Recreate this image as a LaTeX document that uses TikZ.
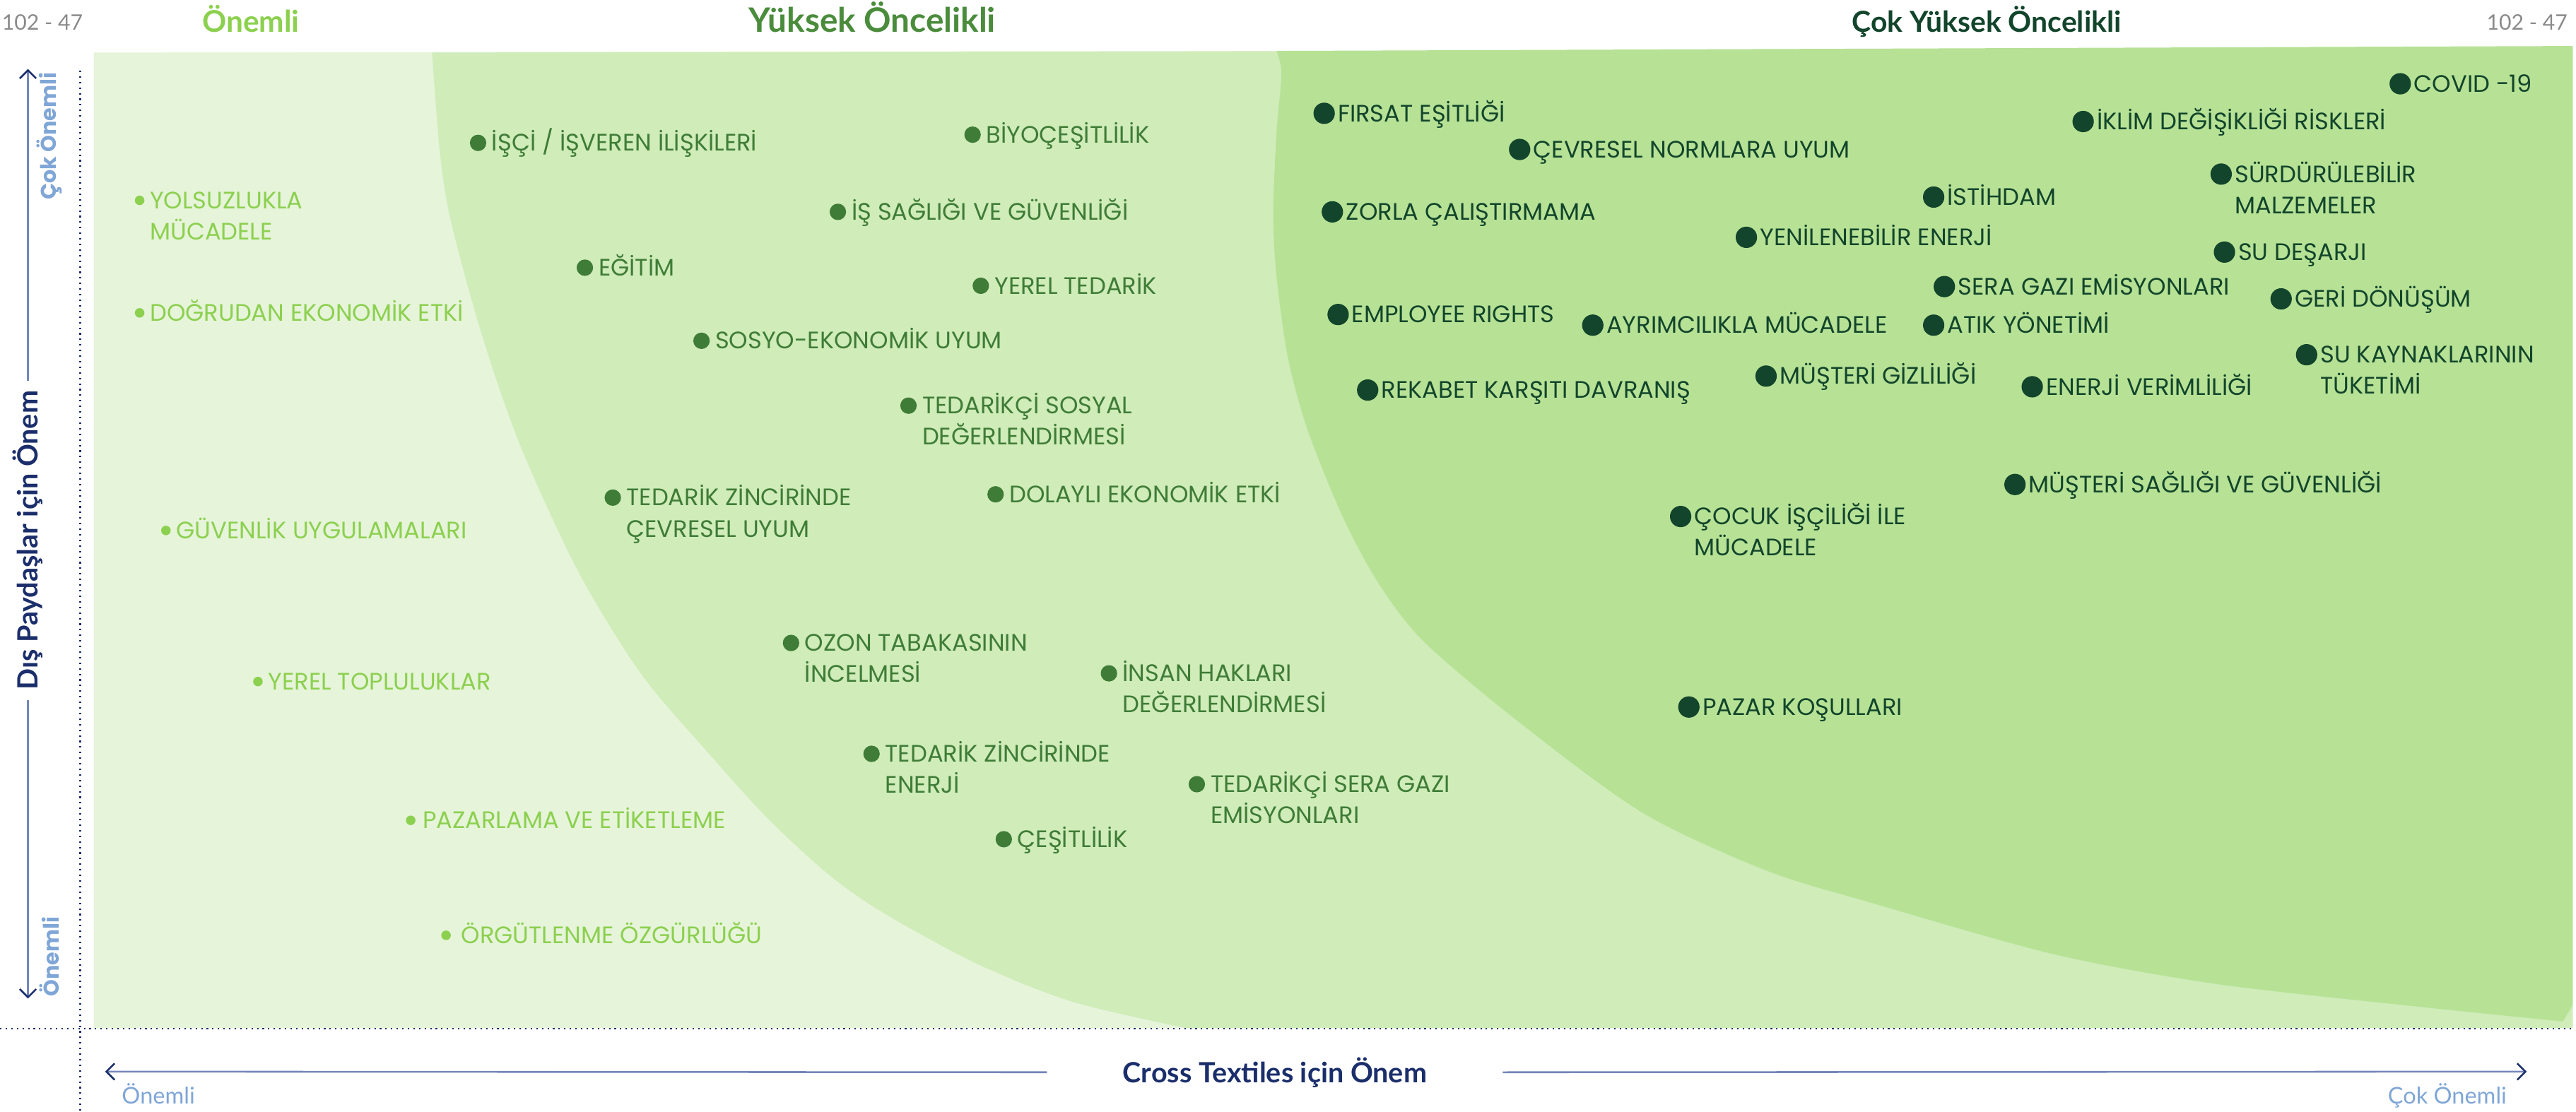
\documentclass[tikz,border=0pt]{standalone}
\usepackage{fontspec}
\setmainfont{Lato}
\newfontfamily\topicfont{Poppins}
\usepackage{xcolor}
\usepackage{tikz}
\usetikzlibrary{positioning,arrows.meta}

\definecolor{lightzone}{HTML}{E6F4DA}
\definecolor{midzone}{HTML}{CFECB9}
\definecolor{highzone}{HTML}{B7E296}
\definecolor{lowgreen}{HTML}{8CD04F}
\definecolor{midgreen}{HTML}{3F7C37}
\definecolor{midhead}{HTML}{4A8C3C}
\definecolor{highgreen}{HTML}{12452B}
\definecolor{navy}{HTML}{1B2E6B}
\definecolor{axisline}{HTML}{7486BA}
\definecolor{paleblue}{HTML}{7FA6D6}
\definecolor{pagegray}{HTML}{8A8A8A}

\begin{document}
\begin{tikzpicture}[x=1pt, y=-1pt, every node/.style={inner sep=0pt},
    lowdot/.style={circle, fill=lowgreen, minimum size=5.8pt},
    middot/.style={circle, fill=midgreen, minimum size=10pt},
    highdot/.style={circle, fill=highgreen, minimum size=13pt},
    topic/.style={font=\topicfont\fontsize{14.5}{19}\selectfont, align=left, anchor=base west, yshift=-5pt},
    twolines/.style={yshift=-19pt},
    lowtopic/.style={topic, text=lowgreen},
    midtopic/.style={topic, text=midgreen},
    hightopic/.style={topic, text=highgreen},
    headline/.style={font=\bfseries\fontsize{18.2}{21}\selectfont},
    pageno/.style={font=\fontsize{13}{15}\selectfont, text=pagegray},
    axtitle/.style={font=\bfseries\fontsize{17}{19}\selectfont, text=navy},
    axend/.style={font=\fontsize{14}{16}\selectfont, text=paleblue},
    axendv/.style={font=\topicfont\bfseries\fontsize{13}{15}\selectfont, text=paleblue, rotate=90},
    axarrow/.style={line width=1.1pt, draw=axisline, -{Straight Barb[length=5pt, width=10pt, color=navy]}},
    gridline/.style={draw=navy, line width=1.1pt, dash pattern=on 0.9pt off 2.5pt}]
    \useasboundingbox (0,0) rectangle (1568,677);

    % zones
    \fill[lightzone] (57,32) -- (1566,30) -- (1566,626) -- (57,626) -- cycle;
    \fill[midzone] plot[smooth] coordinates {(263,32) (268,95) (275,137) (294,206) (317,272) (352,348) (390,410) (429,456) (467,498) (505,533) (538,556) (595,587) (653,610) (722,626)} -- (1566,626) -- (1566,30) -- cycle;
    \fill[highzone] plot[smooth] coordinates {(777,31) (780,45) (777,81) (775,130) (777,168) (784,218) (796,262) (817,314) (839,355) (867,391) (925,440) (1000,495) (1075,530) (1140,550) (1250,581) (1348,599) (1463,612) (1560,622)} -- (1566,612) -- (1566,28) -- cycle;

    % frame
    \draw[gridline] (48.8,43) -- (48.8,677);
    \draw[gridline] (0,626.3) -- (1566,626.3);

    % headings
    \node[pageno, anchor=base west] (pageleft) at (1,18.4) {102 - 47};
    \node[pageno, anchor=base east] (pageright) at (1563,18.4) {102 - 47};
    \node[headline, text=lowgreen, anchor=base west] (headlow) at (123,19.5) {Önemli};
    \node[headline, text=midhead, anchor=base, font=\bfseries\fontsize{20.5}{22}\selectfont] (headmid) at (531,19.5) {Yüksek Öncelikli};
    \node[headline, text=highgreen, anchor=base west, font=\bfseries\fontsize{17.6}{20}\selectfont] (headhigh) at (1127,19.5) {Çok Yüksek Öncelikli};

    % axes
    \coordinate (ytop) at (17,42);
    \coordinate (ybot) at (17,608);
    \coordinate (xleft) at (64,652.5);
    \coordinate (xright) at (1538,652.5);
    \node[axtitle, rotate=90, inner xsep=6pt] (ytitle) at (17,329) {Dış Paydaşlar için Önem};
    \node[axtitle, inner xsep=46pt] (xtitle) at (776,653) {Cross Textiles için Önem};
    \draw[axarrow] (ytitle) -- (ytop);
    \draw[axarrow] (ytitle) -- (ybot);
    \draw[axarrow] (xtitle) -- (xleft);
    \draw[axarrow] (xtitle) -- (xright);
    \node[axendv, anchor=east] (ymax) at (30,44) {Çok Önemli};
    \node[axendv, anchor=west] (ymin) at (30,607) {Önemli};
    \node[axend, anchor=base west] (xmin) at (74,672) {Önemli};
    \node[axend, anchor=base east] (xmax) at (1526,672) {Çok Önemli};

    % low
    \node[lowdot] (yolsuzluk) at (85,122) {};
    \node[right=3pt of yolsuzluk, lowtopic, twolines] (yolsuzluktxt) {YOLSUZLUKLA\\MÜCADELE};
    \node[lowdot] (dogrudan) at (85,190.5) {};
    \node[right=3pt of dogrudan, lowtopic] (dogrudantxt) {DOĞRUDAN EKONOMİK ETKİ};
    \node[lowdot] (guvenlik) at (101,323) {};
    \node[right=3pt of guvenlik, lowtopic] (guvenliktxt) {GÜVENLİK UYGULAMALARI};
    \node[lowdot] (topluluk) at (157,415) {};
    \node[right=3pt of topluluk, lowtopic] (topluluktxt) {YEREL TOPLULUKLAR};
    \node[lowdot] (pazarlama) at (250,499.5) {};
    \node[right=4pt of pazarlama, lowtopic] (pazarlamatxt) {PAZARLAMA VE ETİKETLEME};
    \node[lowdot] (orgutlenme) at (271.5,569.5) {};
    \node[right=6pt of orgutlenme, lowtopic] (orgutlenmetxt) {ÖRGÜTLENME ÖZGÜRLÜĞÜ};

    % mid
    \node[middot] (isci) at (291,87) {};
    \node[right=3pt of isci, midtopic] (iscitxt) {İŞÇİ / İŞVEREN İLİŞKİLERİ};
    \node[middot] (biyo) at (592,82) {};
    \node[right=3pt of biyo, midtopic] (biyotxt) {BİYOÇEŞİTLİLİK};
    \node[middot] (issagligi) at (510,129) {};
    \node[right=3pt of issagligi, midtopic] (issagligitxt) {İŞ SAĞLIĞI VE GÜVENLİĞİ};
    \node[middot] (egitim) at (356,163) {};
    \node[right=3pt of egitim, midtopic] (egitimtxt) {EĞİTİM};
    \node[middot] (yerel) at (597,174) {};
    \node[right=3pt of yerel, midtopic] (yereltxt) {YEREL TEDARİK};
    \node[middot] (sosyo) at (427,207.5) {};
    \node[right=3pt of sosyo, midtopic] (sosyotxt) {SOSYO-EKONOMİK UYUM};
    \node[middot] (tedsosyal) at (553,247) {};
    \node[right=3pt of tedsosyal, midtopic, twolines] (tedsosyaltxt) {TEDARİKÇİ SOSYAL\\DEĞERLENDİRMESİ};
    \node[middot] (tedcevre) at (373,303) {};
    \node[right=3pt of tedcevre, midtopic, twolines] (tedcevretxt) {TEDARİK ZİNCİRİNDE\\ÇEVRESEL UYUM};
    \node[middot] (dolayli) at (606,301) {};
    \node[right=3pt of dolayli, midtopic] (dolaylitxt) {DOLAYLI EKONOMİK ETKİ};
    \node[middot] (ozon) at (481.5,391.5) {};
    \node[right=3pt of ozon, midtopic, twolines] (ozontxt) {OZON TABAKASININ\\İNCELMESİ};
    \node[middot] (insan) at (675,410) {};
    \node[right=3pt of insan, midtopic, twolines] (insantxt) {İNSAN HAKLARI\\DEĞERLENDİRMESİ};
    \node[middot] (tedenerji) at (530.5,459) {};
    \node[right=3pt of tedenerji, midtopic, twolines] (tedenerjitxt) {TEDARİK ZİNCİRİNDE\\ENERJİ};
    \node[middot] (tedsera) at (728.5,477.5) {};
    \node[right=3pt of tedsera, midtopic, twolines] (tedseratxt) {TEDARİKÇİ SERA GAZI\\EMİSYONLARI};
    \node[middot] (cesitlilik) at (611,511) {};
    \node[right=3pt of cesitlilik, midtopic] (cesitliliktxt) {ÇEŞİTLİLİK};

    % high
    \node[highdot] (covid) at (1461,51) {};
    \node[right=1.5pt of covid, hightopic] (covidtxt) {COVID -19};
    \node[highdot] (iklim) at (1268,74) {};
    \node[right=1.5pt of iklim, hightopic] (iklimtxt) {İKLİM DEĞİŞİKLİĞİ RİSKLERİ};
    \node[highdot] (firsat) at (806,69) {};
    \node[right=1.5pt of firsat, hightopic] (firsattxt) {FIRSAT EŞİTLİĞİ};
    \node[highdot] (cevresel) at (925,91) {};
    \node[right=1.5pt of cevresel, hightopic] (cevreseltxt) {ÇEVRESEL NORMLARA UYUM};
    \node[highdot] (surdurulebilir) at (1352,106) {};
    \node[right=1.5pt of surdurulebilir, hightopic, twolines] (surdurulebilirtxt) {SÜRDÜRÜLEBİLİR\\MALZEMELER};
    \node[highdot] (istihdam) at (1177,120) {};
    \node[right=1.5pt of istihdam, hightopic] (istihdamtxt) {İSTİHDAM};
    \node[highdot] (zorla) at (811,129) {};
    \node[right=1.5pt of zorla, hightopic] (zorlatxt) {ZORLA ÇALIŞTIRMAMA};
    \node[highdot] (yenilenebilir) at (1063,144.5) {};
    \node[right=1.5pt of yenilenebilir, hightopic] (yenilenebilirtxt) {YENİLENEBİLİR ENERJİ};
    \node[highdot] (sudesarji) at (1354,153.5) {};
    \node[right=1.5pt of sudesarji, hightopic] (sudesarjitxt) {SU DEŞARJI};
    \node[highdot] (sera) at (1183.5,174.5) {};
    \node[right=1.5pt of sera, hightopic] (seratxt) {SERA GAZI EMİSYONLARI};
    \node[highdot] (geri) at (1388.5,182) {};
    \node[right=1.5pt of geri, hightopic] (geritxt) {GERİ DÖNÜŞÜM};
    \node[highdot] (employee) at (814.5,191.5) {};
    \node[right=1.5pt of employee, hightopic] (employeetxt) {EMPLOYEE RIGHTS};
    \node[highdot] (ayrimcilik) at (969.5,198) {};
    \node[right=1.5pt of ayrimcilik, hightopic] (ayrimciliktxt) {AYRIMCILIKLA MÜCADELE};
    \node[highdot] (atik) at (1177,198) {};
    \node[right=1.5pt of atik, hightopic] (atiktxt) {ATIK YÖNETİMİ};
    \node[highdot] (sukaynak) at (1404,216) {};
    \node[right=1.5pt of sukaynak, hightopic, twolines] (sukaynaktxt) {SU KAYNAKLARININ\\TÜKETİMİ};
    \node[highdot] (gizlilik) at (1075,229) {};
    \node[right=1.5pt of gizlilik, hightopic] (gizliliktxt) {MÜŞTERİ GİZLİLİĞİ};
    \node[highdot] (verimlilik) at (1237,235.5) {};
    \node[right=1.5pt of verimlilik, hightopic] (verimliliktxt) {ENERJİ VERİMLİLİĞİ};
    \node[highdot] (rekabet) at (832.5,237.5) {};
    \node[right=1.5pt of rekabet, hightopic] (rekabettxt) {REKABET KARŞITI DAVRANIŞ};
    \node[highdot] (saglik) at (1226.5,295) {};
    \node[right=1.5pt of saglik, hightopic] (sagliktxt) {MÜŞTERİ SAĞLIĞI VE GÜVENLİĞİ};
    \node[highdot] (cocuk) at (1023,314.5) {};
    \node[right=1.5pt of cocuk, hightopic, twolines] (cocuktxt) {ÇOCUK İŞÇİLİĞİ İLE\\MÜCADELE};
    \node[highdot] (pazar) at (1028,430.5) {};
    \node[right=1.5pt of pazar, hightopic] (pazartxt) {PAZAR KOŞULLARI};
\end{tikzpicture}
\end{document}
